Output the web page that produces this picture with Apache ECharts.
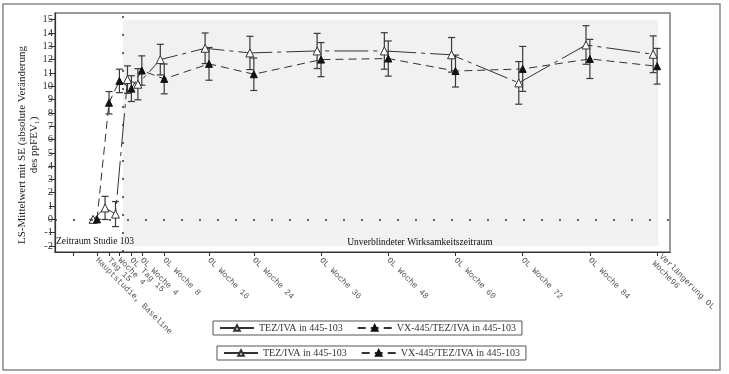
<!DOCTYPE html>
<html>
<head>
<meta charset="utf-8">
<script src="https://cdn.jsdelivr.net/npm/echarts@6/dist/echarts.min.js"></script>
<style>html,body{margin:0;padding:0;background:#fff}#c{width:729px;height:374px}</style>
</head>
<body>
<div id="c"></div>
<script>
// ---- data ----
const xLabels = ["Hauptstudie, Baseline","Tag 15","Woche 4","OL Tag 15","OL Woche 4","OL Woche 8","OL Woche 16","OL Woche 24","OL Woche 36","OL Woche 48","OL Woche 60","OL Woche 72","OL Woche 84","Verlängerung OL\nWoche96"];
const xWeeks = [0, 2.14, 4, 6.14, 8, 12, 20, 28, 40, 52, 64, 76, 88, 100];
const tezMean = [0, 0.86, 0.4, 10.5, 10.15, 12.0, 12.85, 12.5, 12.65, 12.65, 12.36, 10.25, 13.1, 12.4];
const tezSE   = [0, 0.87, 0.94, 1.03, 1.17, 1.15, 1.15, 1.25, 1.32, 1.37, 1.3, 1.6, 1.45, 1.38];
const vxMean  = [0, 8.76, 10.4, 9.82, 11.18, 10.55, 11.68, 10.9, 12.0, 12.08, 11.14, 11.3, 12.05, 11.5];
const vxSE    = [0, 0.84, 0.88, 0.97, 1.1, 1.12, 1.23, 1.22, 1.28, 1.32, 1.2, 1.69, 1.47, 1.34];
const yTicks = [-2,-1,0,1,2,3,4,5,6,7,8,9,10,11,12,13,14,15];
const seriesNames = ["TEZ/IVA in 445-103", "VX-445/TEZ/IVA in 445-103"];
const periodLabels = ["Zeitraum Studie 103", "Unverblindeter Wirksamkeitszeitraum"];
const olStartWeek = 4.64;
const yAxisTitle = ["LS-Mittelwert mit SE (absolute Veränderung", "des ppFEV\u2081)"];

// ---- build ----
const OPEN_DODGE = -0.7;
const SERIF = '"Liberation Serif","Times New Roman",serif';
const MONO = '"Liberation Mono","Courier New",monospace';
const tezLine = xWeeks.map((w,i)=>[w+OPEN_DODGE, tezMean[i]]);
const vxLine = xWeeks.map((w,i)=>[w, vxMean[i]]);
const tezErr = xWeeks.map((w,i)=>[w+OPEN_DODGE, tezMean[i]-tezSE[i], tezMean[i]+tezSE[i]]);
const vxErr = xWeeks.map((w,i)=>[w, vxMean[i]-vxSE[i], vxMean[i]+vxSE[i]]);
const evenWeeks = xWeeks.filter((w,i)=>i%2===0);
const oddWeeks = xWeeks.filter((w,i)=>i%2===1);

function errRender(params, api){
  const x = api.value(0), lo = api.value(1), hi = api.value(2);
  const a = api.coord([x, lo]), b = api.coord([x, hi]);
  const w = 3.5, st = {stroke:'#3a3a3a', lineWidth:1.2};
  return {type:'group', children:[
    {type:'line', shape:{x1:a[0],y1:a[1],x2:b[0],y2:b[1]}, style:st},
    {type:'line', shape:{x1:a[0]-w,y1:a[1],x2:a[0]+w,y2:a[1]}, style:st},
    {type:'line', shape:{x1:b[0]-w,y1:b[1],x2:b[0]+w,y2:b[1]}, style:st}
  ]};
}
function labelFor(v){
  let best=0, d=1e9;
  xWeeks.forEach((w,i)=>{ if(Math.abs(w-v)<d){d=Math.abs(w-v);best=i;} });
  return xLabels[best];
}
const xLabelStyle = {rotate:-45, margin:7, hideOverlap:false, showMinLabel:true, showMaxLabel:true,
  formatter:(v)=>labelFor(v), fontFamily:MONO, fontSize:8.3, color:'#555', lineHeight:10};

const chart = echarts.init(document.getElementById('c'), null, {renderer:'canvas'});
chart.setOption({
  backgroundColor:'#fff',
  animation:false,
  grid:{left:55, right:59, top:13, bottom:122, show:true, borderColor:'#7a7a7a', borderWidth:1.5, backgroundColor:'transparent'},
  xAxis:[{
    type:'value', min:-7.5, max:102.3, position:'bottom',
    splitLine:{show:false},
    axisLine:{show:true, onZero:false, lineStyle:{color:'#333', width:1.2}},
    axisTick:{show:true, customValues:[-4.3].concat(xWeeks), length:4, lineStyle:{color:'#333'}},
    axisLabel:Object.assign({customValues:evenWeeks}, xLabelStyle)
  },{
    type:'value', min:-7.5, max:102.3, position:'bottom', offset:0,
    splitLine:{show:false},
    axisLine:{show:false, onZero:false},
    axisTick:{show:false},
    axisLabel:Object.assign({customValues:oddWeeks}, xLabelStyle)
  }],
  yAxis:{
    type:'value', min:-2.45, max:15.5,
    splitLine:{show:false},
    axisLine:{show:true, onZero:false, lineStyle:{color:'#333', width:1.2}},
    axisTick:{show:true, customValues:yTicks, length:6, lineStyle:{color:'#333'}},
    axisLabel:{customValues:yTicks, margin:2, fontFamily:SERIF, fontSize:10.5, color:'#333'}
  },
  legend:[
    {left:213, top:321, orient:'horizontal', itemWidth:34, itemHeight:7, itemGap:14,
     borderColor:'#555', borderWidth:1, padding:[2,6], data:seriesNames,
     textStyle:{fontFamily:SERIF, fontSize:10, color:'#333'}},
    {left:217, top:346, orient:'horizontal', itemWidth:34, itemHeight:7, itemGap:14,
     borderColor:'#555', borderWidth:1, padding:[2,6], data:seriesNames,
     textStyle:{fontFamily:SERIF, fontSize:10, color:'#333'}}
  ],
  series:[
    {type:'line', name:'shade', data:[], silent:true,
     markArea:{silent:true, itemStyle:{color:'#f1f1f1'}, data:[[{coord:[olStartWeek,-2]},{coord:[100.2,15]}]]},
     markLine:{silent:true, symbol:'none', label:{show:false},
       lineStyle:{color:'#333', type:[2,16], width:1.5},
       data:[{yAxis:0}, {xAxis:olStartWeek}]},
     z:1},
    {type:'custom', name:'tezErr', renderItem:errRender, data:tezErr, encode:{x:0,y:[1,2]}, z:3, silent:true},
    {type:'custom', name:'vxErr', renderItem:errRender, data:vxErr, encode:{x:0,y:[1,2]}, z:3, silent:true},
    {type:'line', name:seriesNames[0], data:tezLine, symbol:'triangle', symbolSize:8,
     lineStyle:{color:'#333', width:1, type:[34,5,4,5]},
     itemStyle:{color:'#ffffff', borderColor:'#333', borderWidth:1, opacity:1}, z:4},
    {type:'line', name:seriesNames[1], data:vxLine, symbol:'triangle', symbolSize:7,
     lineStyle:{color:'#333', width:1, type:[8,5]},
     itemStyle:{color:'#111', borderColor:'#111', borderWidth:1}, z:5}
  ],
  graphic:[
    {type:'rect', shape:{x:3, y:4, width:717, height:366}, style:{fill:'none', stroke:'#888', lineWidth:1.5}, silent:true},
    {type:'text', x:56, y:236, style:{text:periodLabels[0], font:'9.5px '+SERIF, fill:'#111'}, z:10},
    {type:'text', x:420, y:237, style:{text:periodLabels[1], font:'9.5px '+SERIF, fill:'#111', align:'center'}, z:10},
    {type:'text', x:22, y:145, rotation:Math.PI/2, style:{text:yAxisTitle[0], font:'11px '+SERIF, fill:'#222', align:'center', verticalAlign:'middle'}},
    {type:'text', x:34, y:145, rotation:Math.PI/2, style:{text:yAxisTitle[1], font:'11px '+SERIF, fill:'#222', align:'center', verticalAlign:'middle'}}
  ]
});
</script>
</body>
</html>
